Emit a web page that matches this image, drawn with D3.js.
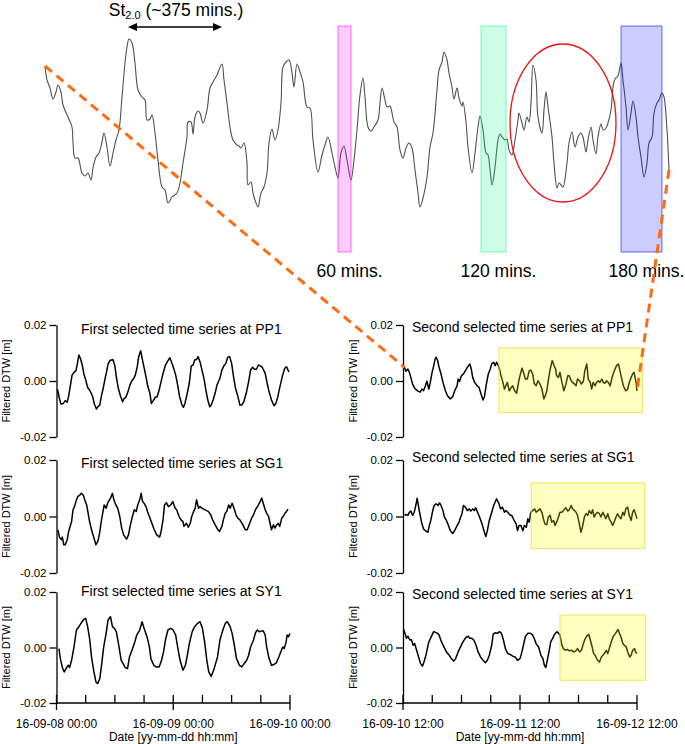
<!DOCTYPE html>
<html><head><meta charset="utf-8">
<script src="https://cdn.jsdelivr.net/npm/d3@7"></script>
<style>
body{margin:0;background:#fff}
svg{display:block}
text{font-family:"Liberation Sans",Arial,Helvetica,sans-serif;fill:#000}
</style>
</head><body>
<svg id="c" width="685" height="744"></svg>
<script>
// ---------- DATA ----------
// Overview series (time step index, relative level)
const overview = [[1,59],[3,45],[6,37],[9,26],[12,33],[14,40],[17,33],[19,20],[24,8],[28,-2],[29,-18],[31,-33],[34,-33],[38,-48],[41,-51],[44,-48],[47,-55],[49,-43],[52,-32],[55,-28],[58,-17],[60,-8],[63,-22],[66,-41],[69,-28],[72,-15],[75,-5],[78,28],[81,62],[83,78],[85,86],[88,82],[91,62],[94,35],[98,28],[101,25],[103,5],[106,6],[108,10],[111,-8],[114,-35],[118,-62],[121,-65],[124,-78],[128,-72],[133,-68],[136,-58],[139,-38],[143,-12],[144,3],[147,3],[149,-9],[151,8],[154,14],[156,12],[159,2],[163,15],[166,37],[169,43],[173,50],[175,55],[178,61],[180,45],[183,22],[186,-2],[189,-15],[193,-20],[195,-21],[197,-23],[200,-18],[203,-38],[204,-60],[207,-57],[209,-68],[212,-78],[214,-82],[217,-68],[220,-62],[223,-48],[225,-18],[228,-4],[231,-15],[234,-5],[237,22],[239,58],[242,63],[245,65],[248,52],[250,38],[253,61],[256,53],[259,43],[263,18],[266,17],[269,-15],[274,-47],[278,-30],[281,-20],[284,-12],[288,-28],[291,-42],[294,-53],[297,-28],[300,-21],[303,-35],[307,-55],[310,-35],[313,-5],[316,30],[319,47],[321,28],[324,-2],[327,-6],[330,-2],[334,5],[336,22],[338,37],[341,25],[343,18],[346,19],[348,12],[350,3],[353,-2],[356,-25],[359,-33],[362,-23],[365,-18],[368,-23],[371,-45],[374,-68],[376,-82],[379,-73],[383,-52],[386,-22],[389,-8],[393,35],[395,55],[398,63],[400,73],[403,65],[405,52],[408,38],[410,26],[413,37],[415,27],[418,19],[419,23],[422,3],[424,-22],[428,-48],[431,-28],[434,-2],[436,9],[439,-5],[442,-28],[444,-30],[446,-45],[448,-60],[451,-42],[454,-15],[456,-9],[458,-12],[461,-15],[463,-14],[465,-25],[468,-30],[471,-15],[474,5],[475,12],[478,2],[480,-5],[483,8],[485,3],[487,22],[489,60],[492,45],[494,8],[498,-8],[500,15],[502,33],[504,18],[508,-12],[510,-38],[513,-63],[515,-58],[517,-60],[519,-62],[523,-38],[525,-18],[528,-7],[531,-22],[534,-12],[537,-8],[539,-12],[542,-27],[544,-15],[547,-2],[549,-15],[552,-29],[554,-12],[557,1],[559,-5],[562,-3],[564,2],[567,15],[569,38],[571,46],[574,49],[577,62],[579,45],[582,18],[584,-5],[587,12],[589,24],[592,8],[594,-12],[597,-32],[600,-52],[603,-38],[605,-18],[608,-12],[610,12],[613,22],[615,25],[618,32],[620,28],[623,-5],[625,-45]];
const overviewDomainT = [0, 626];
const overviewDomainV = [-127, 99];

// Windows in overview (start, end in time steps)
const windowLabels = ["60 mins.", "120 mins.", "180 mins."];
const windowStart = [294, 437, 577];
const windowEnd = [307, 462, 618];
const windowColors = ["#ff00ff", "#00ff80", "#0000ff"];
// anomaly ellipse (center t, v; radii t, v)
const anomalyCenter = [519, 2];
const anomalyRadius = [53, 79];
// St2.0 period arrow
const periodStart = 84, periodEnd = 178;

// Filtered DTW series: [hours from start, mm]
const firstPP1 = [[0.2,-3.0],[0.55,-5.8],[0.9,-8.2],[1.4,-8.0],[1.8,-7.0],[2.2,-7.6],[2.5,-5.4],[2.9,-1.1],[3.2,2.1],[3.6,3.1],[4.0,3.6],[4.3,6.3],[4.6,9.3],[4.9,8.1],[5.3,5.7],[5.6,2.7],[6.0,0.4],[6.4,-2.3],[6.8,-3.2],[7.4,-5.4],[7.8,-8.3],[8.2,-10.0],[8.5,-9.2],[8.9,-8.6],[9.2,-5.6],[9.6,-2.6],[10.0,1.0],[10.3,3.3],[10.6,6.1],[11.0,7.3],[11.3,7.5],[11.6,7.7],[12.0,5.4],[12.3,1.5],[12.7,-2.6],[13.2,-5.6],[13.6,-7.4],[13.9,-6.2],[14.2,-6.0],[14.7,-3.8],[15.1,-1.4],[15.5,0.1],[15.9,1.0],[16.2,2.1],[16.6,5.1],[16.9,8.7],[17.3,10.8],[17.6,8.1],[17.9,5.7],[18.4,1.5],[18.7,-1.4],[19.2,-4.4],[19.5,-8.0],[19.9,-7.0],[20.3,-5.8],[20.7,-5.6],[21.1,-3.2],[21.5,-0.2],[21.9,2.7],[22.4,5.7],[22.8,6.9],[23.3,8.3],[23.7,6.5],[24.1,4.5],[24.5,2.1],[24.9,-1.4],[25.3,-5.6],[25.8,-8.6],[26.1,-9.4],[26.4,-8.0],[26.8,-5.0],[27.3,-0.8],[27.7,5.4],[28.1,5.7],[28.4,7.5],[28.8,7.7],[29.1,8.7],[29.5,6.9],[29.9,3.9],[30.3,1.0],[30.7,-3.2],[31.1,-6.8],[31.5,-9.2],[31.8,-8.6],[32.2,-6.8],[32.6,-4.4],[33.0,-1.4],[33.6,1.0],[34.0,3.9],[34.4,5.4],[34.8,6.3],[35.2,8.5],[35.6,8.7],[36.0,6.3],[36.4,1.5],[36.8,-2.6],[37.3,-5.6],[37.7,-8.6],[38.1,-8.6],[38.5,-7.4],[39.0,-4.4],[39.5,-0.2],[39.9,3.9],[40.3,4.9],[40.7,4.2],[41.1,4.2],[41.5,5.7],[41.9,5.4],[42.3,4.9],[42.9,2.7],[43.3,-0.8],[43.7,-3.8],[44.2,-6.8],[44.7,-8.8],[45.1,-8.0],[45.5,-5.6],[45.9,-2.3],[46.4,1.5],[46.9,4.5],[47.3,5.1],[47.6,3.9],[47.8,3.3]];
const firstSG1 = [[0.3,-4.7],[0.6,-7.3],[1.0,-8.2],[1.2,-7.3],[1.5,-10.0],[1.8,-10.0],[2.2,-8.2],[2.5,-5.3],[2.9,-2.9],[3.1,-1.8],[3.4,2.4],[3.7,3.5],[4.1,5.9],[4.4,7.1],[4.8,7.6],[5.1,8.2],[5.5,7.6],[5.8,5.9],[6.2,4.1],[6.5,1.2],[6.8,-1.8],[7.2,-4.7],[7.7,-7.6],[8.1,-10.0],[8.5,-8.8],[8.8,-6.5],[9.2,-1.8],[9.5,1.2],[9.8,4.1],[10.2,2.9],[10.5,4.7],[11.1,6.5],[11.5,8.2],[11.8,5.9],[12.2,4.1],[12.6,2.9],[13.0,0],[13.4,-4.1],[13.8,-6.5],[14.4,-8.0],[14.8,-6.5],[15.2,-2.9],[15.6,0],[16.0,2.4],[16.4,1.8],[16.7,4.1],[17.1,5.9],[17.4,8.2],[17.7,5.3],[18.0,4.7],[18.4,3.5],[18.7,1.8],[19.1,0],[19.6,-2.4],[20.1,-4.7],[20.6,-6.5],[21.2,-7.3],[21.5,-5.3],[21.9,-1.2],[22.2,4.1],[22.6,4.9],[23.0,3.5],[23.5,4.1],[23.9,5.3],[24.4,2.9],[24.7,2.4],[25.2,0],[25.6,-1.2],[26.0,-1.8],[26.2,-3.5],[26.7,-2.4],[27.1,-3.8],[27.5,-2.4],[27.8,0],[28.2,1.8],[28.5,2.9],[28.8,5.9],[29.2,2.9],[29.5,3.5],[29.9,2.9],[30.3,2.6],[30.8,2.1],[31.2,1.8],[31.7,0.6],[32.1,-1.2],[32.6,-2.9],[33.1,-4.5],[33.5,-5.3],[34.0,-3.5],[34.3,-1.2],[34.7,1.2],[35.0,1.8],[35.4,4.1],[35.7,2.9],[36.1,4.7],[36.5,2.9],[36.9,0.6],[37.3,-0.6],[37.7,-1.2],[38.3,-2.9],[38.8,-4.7],[39.2,-4.7],[39.6,-2.9],[40.1,-0.6],[40.5,0.6],[40.9,2.4],[41.3,3.5],[41.7,4.7],[42.2,6.5],[42.5,4.7],[42.9,2.4],[43.2,1.2],[43.6,0],[43.9,-2.4],[44.2,-4.7],[44.6,-2.9],[44.9,-4.1],[45.3,-2.9],[45.6,-2.4],[45.9,-3.5],[46.3,-0.6],[46.6,0],[47.0,1.2],[47.3,1.8],[47.6,2.6]];
const firstSY1 = [[0.5,-0.4],[0.8,-4.0],[1.2,-7.2],[1.6,-8.8],[2.1,-7.2],[2.4,-6.4],[2.7,-7.2],[3.1,-4.6],[3.6,0.2],[4.1,6.3],[4.6,7.5],[5.1,8.9],[5.6,10.1],[6.0,10.5],[6.4,7.5],[6.8,3.3],[7.2,-3.4],[7.7,-8.8],[8.1,-12.4],[8.5,-13.0],[8.9,-11.2],[9.3,-5.8],[9.7,0.2],[10.2,5.1],[10.6,9.9],[11.1,11.1],[11.5,7.5],[11.9,6.9],[12.3,5.7],[12.8,0.8],[13.3,-4.6],[13.7,-5.8],[14.1,-7.2],[14.6,-7.6],[15.0,-3.4],[15.5,-1.0],[16.0,1.4],[16.5,4.5],[17.1,6.3],[17.6,9.3],[18.0,6.9],[18.6,3.9],[19.1,0.2],[19.4,-4.0],[20.0,-6.4],[20.5,-7.0],[21.1,-7.0],[21.6,-4.6],[22.0,-1.6],[22.4,2.7],[22.9,6.3],[23.4,6.9],[23.9,6.5],[24.5,4.5],[24.9,0.2],[25.4,-4.6],[26.0,-8.2],[26.5,-6.4],[26.9,-2.8],[27.3,1.4],[27.9,5.7],[28.4,7.5],[29.0,8.7],[29.5,9.3],[30.0,6.9],[30.5,1.4],[30.9,-4.6],[31.3,-8.8],[31.8,-10.4],[32.3,-8.2],[32.7,-5.8],[33.1,-3.4],[33.6,2.7],[34.2,6.3],[34.7,8.7],[35.1,9.3],[35.7,7.5],[36.1,5.1],[36.5,1.4],[37.0,-4.0],[37.6,-6.4],[38.1,-7.0],[38.7,-5.5],[39.1,-4.6],[39.5,-2.8],[39.9,0.2],[40.5,2.7],[40.9,5.3],[41.3,6.3],[41.7,5.7],[42.1,5.9],[42.5,6.0],[42.9,4.5],[43.2,0.2],[43.7,-4.0],[44.2,-6.4],[44.7,-6.1],[45.2,-5.5],[45.7,-3.4],[46.1,-1.6],[46.5,0.2],[46.8,-0.4],[47.2,2.0],[47.4,4.5],[47.7,3.9],[48.0,5.1]];
const secondPP1 = [[0.3,4.9],[0.6,3.5],[1.0,4.3],[1.3,3.1],[1.6,1.3],[2.0,-1.3],[2.5,-2.8],[3.0,-3.5],[3.5,-4.0],[3.9,-2.9],[4.2,-3.5],[4.6,-1.7],[4.9,-0.1],[5.3,-2.9],[5.6,-0.5],[5.9,2.5],[6.3,5.5],[6.6,7.9],[6.8,8.5],[7.1,7.3],[7.4,4.9],[7.8,2.5],[8.2,-0.5],[8.7,-3.5],[9.1,-5.2],[9.7,-6.4],[10.2,-5.6],[10.6,-3.5],[11.1,-1.7],[11.3,0.7],[11.6,-0.1],[12.0,1.9],[12.4,2.5],[12.8,3.7],[13.2,4.9],[13.7,6.1],[14.0,4.3],[14.3,1.3],[14.7,-0.5],[15.2,-1.7],[15.6,-2.3],[16.0,-4.6],[16.4,-6.8],[16.7,-5.6],[17.1,-1.1],[17.5,2.5],[17.9,4.3],[18.2,6.1],[18.6,6.7],[18.9,5.5],[19.2,6.7],[19.7,4.9],[20.1,1.9],[20.5,-0.5],[20.8,-2.9],[21.1,-1.7],[21.4,-0.5],[21.8,-3.5],[22.2,-2.3],[22.5,-1.7],[22.9,-3.5],[23.3,-4.4],[23.7,-0.5],[24.0,1.9],[24.4,4.6],[24.7,3.1],[25.1,0.7],[25.5,0.7],[25.9,3.7],[26.2,3.9],[26.6,2.5],[26.9,-0.8],[27.3,-1.7],[27.7,0.1],[28.1,-1.1],[28.5,-2.9],[28.9,-6.4],[29.2,-5.2],[29.5,-3.5],[29.8,0.1],[30.2,4.3],[30.6,7.3],[31.0,5.5],[31.3,4.3],[31.5,1.9],[31.9,1.3],[32.2,3.1],[32.6,-0.5],[33.0,-3.5],[33.4,-1.3],[33.8,1.9],[34.1,1.9],[34.5,0.1],[34.8,-0.5],[35.2,-1.1],[35.5,-1.7],[35.8,0.7],[36.2,0.1],[36.6,-1.1],[37.0,-0.1],[37.3,3.7],[37.7,6.1],[38.0,0.7],[38.4,-0.5],[38.7,-2.9],[39.0,-0.5],[39.4,-1.7],[39.7,-0.5],[40.1,0.1],[40.4,-0.5],[40.8,0.7],[41.1,-0.5],[41.4,-0.8],[41.8,0.1],[42.1,-0.5],[42.5,-1.7],[42.8,0.7],[43.1,2.5],[43.5,4.3],[43.8,5.5],[44.2,6.1],[44.5,3.7],[44.8,1.3],[45.2,-1.7],[45.7,-3.5],[46.1,-2.9],[46.4,-0.5],[46.8,1.3],[47.1,2.5],[47.4,3.1],[47.8,-0.5],[48.0,-3.5]];
const secondSG1 = [[0.3,0.4],[0.6,0.7],[1.0,0.4],[1.3,1.5],[1.6,1.9],[2.0,0.4],[2.3,1.5],[2.7,4.5],[2.9,6.5],[3.1,4.5],[3.4,1.5],[3.8,-2.0],[4.2,-4.4],[4.6,-5.0],[5.1,-5.6],[5.4,-3.2],[5.7,-1.4],[6.1,2.1],[6.4,3.9],[6.8,4.5],[7.2,3.9],[7.5,4.8],[7.8,3.9],[8.2,2.1],[8.5,-0.2],[8.9,-1.4],[9.2,-2.6],[9.7,-5.0],[10.2,-6.0],[10.6,-5.0],[11.1,-3.2],[11.5,-2.0],[11.7,-0.8],[12.1,1.0],[12.4,3.9],[12.8,3.3],[13.2,2.1],[13.6,2.7],[13.9,1.9],[14.3,2.7],[14.6,2.1],[14.9,3.1],[15.3,1.5],[15.7,-0.2],[16.2,-2.6],[16.7,-5.6],[17.0,-7.1],[17.3,-5.0],[17.7,-1.4],[18.2,1.5],[18.6,3.9],[19.2,6.3],[19.7,4.5],[20.0,2.7],[20.4,3.3],[20.8,1.5],[21.1,2.1],[21.5,1.5],[22.0,0.4],[22.3,0.4],[22.8,-1.4],[23.2,-2.6],[23.5,-5.0],[23.8,-3.2],[24.2,-3.2],[24.6,-5.0],[24.9,-3.2],[25.3,-3.8],[25.6,-0.8],[25.9,-2.0],[26.2,1.5],[26.6,2.1],[27.0,2.7],[27.3,1.5],[27.7,2.1],[28.1,2.7],[28.5,1.5],[28.8,-0.8],[29.1,-2.6],[29.5,-2.9],[29.8,-0.2],[30.2,0.4],[30.5,-2.0],[30.9,-1.4],[31.2,-3.2],[31.5,-2.0],[31.9,-0.2],[32.2,1.5],[32.6,1.5],[32.9,2.1],[33.4,3.1],[33.8,1.9],[34.1,2.4],[34.5,3.9],[34.8,2.7],[35.2,2.1],[35.5,1.5],[35.8,0.4],[36.1,-2.0],[36.5,-5.6],[36.8,-3.8],[37.2,-0.2],[37.5,1.0],[37.9,0.4],[38.2,2.1],[38.6,1.0],[38.9,2.4],[39.2,-0.2],[39.6,1.0],[39.9,1.5],[40.3,1.0],[40.6,-0.2],[41.0,1.5],[41.3,0.4],[41.6,-0.8],[42.0,1.0],[42.3,-0.8],[42.7,-2.0],[43.0,-3.2],[43.3,-2.0],[43.7,-0.2],[44.0,1.0],[44.4,-0.2],[44.7,-0.8],[45.1,1.5],[45.4,0.4],[45.7,2.7],[46.1,3.3],[46.4,0.4],[46.8,-1.4],[47.1,1.5],[47.4,2.4],[47.8,0.4],[48.0,-0.8]];
const secondSY1 = [[0.1,6.5],[0.4,5.1],[0.7,3.3],[1.0,4.1],[1.4,2.7],[1.7,2.9],[2.1,0.8],[2.4,1.4],[2.9,-1.6],[3.3,-4.0],[3.6,-5.8],[4.0,-6.7],[4.3,-5.2],[4.7,-2.8],[5.0,-0.4],[5.3,2.0],[5.8,3.9],[6.3,5.7],[6.7,5.4],[7.1,5.1],[7.4,4.5],[7.9,2.0],[8.4,0.2],[8.9,-1.6],[9.5,-2.8],[9.9,-4.0],[10.4,-4.9],[10.8,-4.0],[11.3,-1.6],[11.8,0.2],[12.3,2.0],[12.9,3.6],[13.4,4.1],[13.7,3.3],[14.1,3.3],[14.5,2.7],[15.0,0.8],[15.4,-1.6],[15.9,-3.4],[16.5,-4.8],[16.9,-5.5],[17.3,-4.6],[17.7,-2.8],[18.2,0.8],[18.5,4.8],[18.9,5.3],[19.4,5.1],[19.8,5.7],[20.2,5.1],[20.6,2.7],[21.0,-0.4],[21.5,-2.2],[21.9,-2.4],[22.5,-3.1],[23.0,-3.4],[23.5,-4.6],[24.0,-4.0],[24.3,-2.2],[24.7,0.8],[25.1,3.9],[25.6,5.1],[26.1,5.1],[26.5,4.7],[26.9,3.3],[27.3,1.4],[27.8,0.2],[28.3,-2.8],[28.7,-4.0],[29.0,-6.4],[29.3,-7.2],[29.6,-4.6],[30.0,-1.0],[30.3,2.0],[30.7,3.3],[31.1,4.8],[31.6,5.7],[31.9,5.1],[32.2,4.5],[32.6,0.8],[32.9,-0.4],[33.3,-1.0],[33.7,-0.7],[34.1,-1.2],[34.6,-1.0],[35.0,-1.6],[35.4,-1.3],[35.8,-0.4],[36.2,-1.6],[36.6,-1.0],[37.0,1.4],[37.4,3.3],[37.7,4.1],[38.1,4.8],[38.4,2.9],[38.8,0.2],[39.1,-2.2],[39.4,-2.8],[39.9,-4.6],[40.3,-5.2],[40.7,-3.4],[41.0,-2.8],[41.4,-1.9],[41.7,-1.0],[42.0,-2.2],[42.4,0.2],[42.7,2.0],[43.1,3.9],[43.6,5.1],[44.1,6.5],[44.4,5.1],[44.7,3.9],[45.1,1.4],[45.4,0.8],[45.8,0.2],[46.1,-1.6],[46.5,-3.4],[46.8,-2.8],[47.1,-1.0],[47.5,-0.4],[47.7,-1.6],[48.0,-2.2]];

const stations = ["PP1", "SG1", "SY1"];
const yTicks = [-0.02, 0.00, 0.02];
const firstStart = Date.UTC(2016, 8, 8, 0, 0);
const secondStart = Date.UTC(2016, 8, 10, 12, 0);
const spanHours = 48;
// highlighted part of second series: [h0, h1, mmTop, mmBottom]
const highlightPP1 = [19.7, 49.1, 11.8, -11.3];
const highlightSG1 = [26.3, 49.6, 11.9, -11.3];
const highlightSY1 = [32.2, 49.8, 11.7, -11.8];

// ---------- DRAW ----------
const svg = d3.select("#c");
const FONT = '"Liberation Sans",Arial,Helvetica,sans-serif';

// Overview panel
const xTop = d3.scaleLinear().domain(overviewDomainT).range([44, 670]);
const yTop = d3.scaleLinear().domain(overviewDomainV).range([252, 26]);

svg.append("path").datum(overview)
  .attr("d", d3.line().x(d => xTop(d[0])).y(d => yTop(d[1])).curve(d3.curveCatmullRom.alpha(0.5)))
  .attr("fill", "none").attr("stroke", "#505050").attr("stroke-width", 1.1);

windowStart.forEach((s, i) => {
  svg.append("rect")
    .attr("x", xTop(s)).attr("y", yTop(overviewDomainV[1]))
    .attr("width", xTop(windowEnd[i]) - xTop(s))
    .attr("height", yTop(overviewDomainV[0]) - yTop(overviewDomainV[1]))
    .attr("fill", windowColors[i]).attr("fill-opacity", 0.2)
    .attr("stroke", windowColors[i]).attr("stroke-opacity", 0.55).attr("stroke-width", 1);
  svg.append("text")
    .attr("x", (xTop(s) + xTop(windowEnd[i])) / 2 + 5).attr("y", 277)
    .attr("text-anchor", "middle").style("font-size", "17.5px")
    .text(windowLabels[i]);
});

svg.append("ellipse")
  .attr("cx", xTop(anomalyCenter[0])).attr("cy", yTop(anomalyCenter[1]))
  .attr("rx", xTop(anomalyCenter[0] + anomalyRadius[0]) - xTop(anomalyCenter[0]))
  .attr("ry", yTop(anomalyCenter[1]) - yTop(anomalyCenter[1] + anomalyRadius[1]))
  .attr("fill", "none").attr("stroke", "#ee1111").attr("stroke-width", 1.3);

// period arrow
{
  const ax0 = xTop(periodStart), ax1 = xTop(periodEnd), ay = 27, hl = 9, hw = 4;
  svg.append("line").attr("x1", ax0 + hl - 1).attr("x2", ax1 - hl + 1).attr("y1", ay).attr("y2", ay)
    .attr("stroke", "#000").attr("stroke-width", 1.6);
  svg.append("path").attr("d", `M${ax0},${ay}L${ax0 + hl},${ay - hw}L${ax0 + hl},${ay + hw}Z`).attr("fill", "#000");
  svg.append("path").attr("d", `M${ax1},${ay}L${ax1 - hl},${ay - hw}L${ax1 - hl},${ay + hw}Z`).attr("fill", "#000");
  const t = svg.append("text").attr("x", (ax0 + ax1) / 2 + 1).attr("y", 15.5)
    .attr("text-anchor", "middle").style("font-size", "17.5px");
  t.append("tspan").text("St");
  t.append("tspan").attr("dy", 3.5).style("font-size", "11px").text("2.0");
  t.append("tspan").attr("dy", -3.5).text(" (~375 mins.)");
}

// Small panels
const colX = [[56.5, 290], [403, 637]];
const rowY = [[437, 325], [573, 460], [703, 592]];
const titleY = [[334, 468, 596], [332, 462, 599]];
const titleX = [81, 412];
const ylabX = [10, 357];
const series = [[firstPP1, firstSG1, firstSY1], [secondPP1, secondSG1, secondSY1]];
const highlights = [highlightPP1, highlightSG1, highlightSY1];
const starts = [firstStart, secondStart];
const fmtDate = d3.utcFormat("%y-%m-%d %H:%M");
const scales = {};

[0, 1].forEach(c => {
  const x = d3.scaleUtc().domain([new Date(starts[c]), new Date(starts[c] + spanHours * 3600e3)]).range(colX[c]);
  [0, 1, 2].forEach(r => {
    const y = d3.scaleLinear().domain([-0.02, 0.02]).range(rowY[r]);
    scales[c + "_" + r] = { x, y };
    const data = series[c][r];
    svg.append("path").datum(data)
      .attr("d", d3.line().x(d => x(new Date(starts[c] + d[0] * 3600e3))).y(d => y(d[1] / 1000)))
      .attr("fill", "none").attr("stroke", "#000").attr("stroke-width", 1.5).attr("stroke-linejoin", "round");

    if (c === 1) {
      const h = highlights[r];
      const x0 = x(new Date(starts[c] + h[0] * 3600e3)), x1 = x(new Date(starts[c] + h[1] * 3600e3));
      svg.append("rect").attr("x", x0).attr("y", y(h[2] / 1000))
        .attr("width", x1 - x0).attr("height", y(h[3] / 1000) - y(h[2] / 1000))
        .attr("fill", "#ffff00").attr("fill-opacity", 0.25)
        .attr("stroke", "#e6de3a").attr("stroke-opacity", 0.8).attr("stroke-width", 1);
    }

    // y axis
    const ya = svg.append("g").attr("transform", `translate(${colX[c][0]},0)`)
      .call(d3.axisLeft(y).tickValues(yTicks).tickFormat(d => d.toFixed(2)).tickSize(7).tickSizeOuter(0).tickPadding(3));
    ya.selectAll("text").style("font-size", "11.5px").style("font-family", FONT);
    ya.selectAll("line,path").attr("stroke", "#000").attr("stroke-width", 1.3);

    svg.append("text").attr("transform", `translate(${ylabX[c]},${(rowY[r][0] + rowY[r][1]) / 2}) rotate(-90)`)
      .attr("text-anchor", "middle").style("font-size", "11px").text("Filtered DTW [m]");

    svg.append("text").attr("x", titleX[c]).attr("y", titleY[c][r]).style("font-size", "14px")
      .text((c === 0 ? "First" : "Second") + " selected time series at " + stations[r]);
  });

  // x axis on bottom row
  const yb = rowY[2][0];
  const g = svg.append("g");
  g.append("line").attr("x1", colX[c][0]).attr("x2", colX[c][1]).attr("y1", yb).attr("y2", yb)
    .attr("stroke", "#000").attr("stroke-width", 1.3);
  const ticks = d3.utcHour.every(6).range(new Date(starts[c]), new Date(starts[c] + spanHours * 3600e3 + 1));
  ticks.forEach(t => {
    const major = ((t.getTime() - starts[c]) / 3600e3) % 24 === 0;
    const tx = x(t);
    g.append("line").attr("x1", tx).attr("x2", tx).attr("y1", yb - 8).attr("y2", major ? yb + 7 : yb)
      .attr("stroke", "#000").attr("stroke-width", 1.3);
    if (major) {
      g.append("text").attr("x", tx).attr("y", 728).attr("text-anchor", "middle")
        .style("font-size", "12px").text(fmtDate(t));
    }
  });
  g.append("text").attr("x", (colX[c][0] + colX[c][1]) / 2).attr("y", 741).attr("text-anchor", "middle")
    .style("font-size", "12px").text("Date [yy-mm-dd hh:mm]");
});

// Orange dashed connectors (overview start/end to second PP1 start/end)
{
  const s = scales["1_0"];
  const first = secondPP1[0], last = secondPP1[secondPP1.length - 1];
  const conn = [
    [[xTop(overview[0][0]), yTop(overview[0][1])], [s.x(new Date(secondStart + first[0] * 3600e3)), s.y(first[1] / 1000)]],
    [[xTop(overview[overview.length - 1][0]), yTop(overview[overview.length - 1][1])], [s.x(new Date(secondStart + last[0] * 3600e3)), s.y(last[1] / 1000)]]
  ];
  conn.forEach(p => {
    svg.append("line").attr("x1", p[0][0]).attr("y1", p[0][1]).attr("x2", p[1][0]).attr("y2", p[1][1])
      .attr("stroke", "#ff6a13").attr("stroke-width", 3).attr("stroke-dasharray", "9,6");
  });
}
</script>
</body></html>
